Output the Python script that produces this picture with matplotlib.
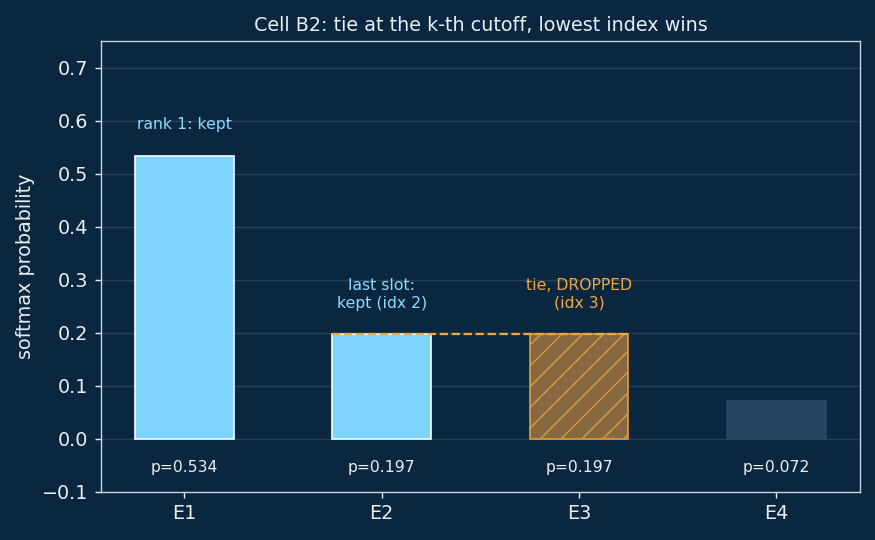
import numpy as np
import matplotlib.pyplot as plt
from matplotlib.ticker import MultipleLocator

experts = ["E1", "E2", "E3", "E4"]
probs = [0.534, 0.197, 0.197, 0.072]
notes = ["rank 1: kept", "last slot:\nkept (idx 2)", "tie, DROPPED\n(idx 3)", ""]

bg = "#0b2740"
blue = "#7fd4ff"
orange = "#f0a840"
dim = "#2a4560"
fg = "#e8eef4"

plt.rcParams["hatch.color"] = "#e0a048"
plt.rcParams["hatch.linewidth"] = 0.8

fig, ax = plt.subplots(figsize=(7, 4.32), dpi=125)
fig.patch.set_facecolor(bg)
ax.set_facecolor(bg)

x = np.arange(len(experts))
for i, p in enumerate(probs):
    if i < 2:
        ax.bar(x[i], p, width=0.5, color=blue, edgecolor="#f0f8ff", linewidth=1.0, zorder=3)
    elif i == 2:
        ax.bar(x[i], p, width=0.5, color="#88693f", edgecolor="#d99a45", linewidth=1.0,
               hatch="//", zorder=3)
    else:
        ax.bar(x[i], p, width=0.5, color=dim, edgecolor=dim, zorder=3)

# tie line at the cutoff
ax.plot([x[1] - 0.25, x[2] + 0.25], [probs[1], probs[2]], ls="--", color=orange,
        lw=1.3, zorder=4)

for i, (p, n) in enumerate(zip(probs, notes)):
    if n:
        c = orange if i == 2 else "#8fd8ff"
        ax.text(x[i], p + 0.045, n, ha="center", va="bottom", fontsize=9, color=c)
    ax.text(x[i], -0.053, f"p={p:.3f}", ha="center", va="center", fontsize=9, color=fg)

ax.set_xticks(x)
ax.set_xticklabels(experts)
ax.set_ylim(-0.1, 0.75)
ax.yaxis.set_major_locator(MultipleLocator(0.1))
ax.set_ylabel("softmax probability", color=fg, fontsize=11)
ax.set_title("Cell B2: tie at the k-th cutoff, lowest index wins", color=fg, fontsize=11)
ax.grid(axis="y", color="#ffffff", alpha=0.12, lw=0.8, zorder=0)
ax.tick_params(colors=fg, labelsize=11)
for s in ax.spines.values():
    s.set_color("#c8d4e0")

fig.subplots_adjust(left=0.115, right=0.983, top=0.924, bottom=0.089)
fig.savefig("out.png", facecolor=bg)
